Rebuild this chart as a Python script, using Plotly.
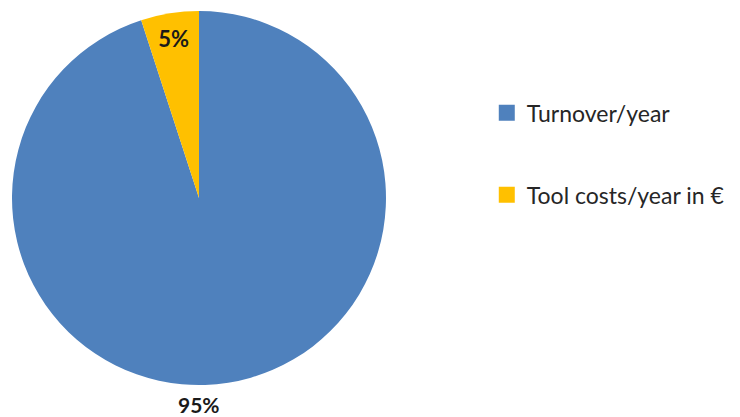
import plotly.graph_objects as go

categories = ["Turnover/year", "Tool costs/year in €"]
values = [95, 5]
colors = ["#4F81BD", "#FFC000"]

total = sum(values)
pct_labels = [f"<b>{round(v / total * 100)}%</b>" for v in values]

dom_x = [0.0054, 0.5108]
dom_y = [0.0958, 0.9928]

fig = go.Figure()
fig.add_trace(go.Pie(
    labels=categories,
    values=values,
    marker=dict(colors=colors, line=dict(color="white", width=0)),
    sort=False,
    direction="clockwise",
    rotation=0,
    text=["", pct_labels[1]],
    textinfo="text",
    textposition="inside",
    insidetextorientation="horizontal",
    textfont=dict(family="Lato", size=22, color="#1a1a1a"),
    showlegend=False,
    domain=dict(x=dom_x, y=dom_y),
    hoverinfo="label+percent",
))
for name, col in zip(categories, colors):
    fig.add_trace(go.Scatter(
        x=[None], y=[None], mode="markers", name=name,
        legendgroup=name,
        marker=dict(symbol="square", size=16, color=col),
    ))

fig.add_annotation(
    x=(dom_x[0] + dom_x[1]) / 2, y=0.0, xref="paper", yref="paper",
    xanchor="center", yanchor="bottom", yshift=7,
    text=pct_labels[0], showarrow=False, borderpad=0,
    font=dict(family="Lato", size=21, color="#1a1a1a"),
)

fig.update_layout(
    width=740, height=417,
    margin=dict(l=0, r=0, t=0, b=0),
    paper_bgcolor="white", plot_bgcolor="white",
    xaxis=dict(visible=False), yaxis=dict(visible=False),
    legend=dict(x=0.647, y=0.80, xanchor="left", yanchor="top",
                font=dict(family="Lato", size=23, color="#262626"),
                tracegroupgap=49, itemclick=False),
    font=dict(family="Lato"),
)
fig.write_html("out.html")
